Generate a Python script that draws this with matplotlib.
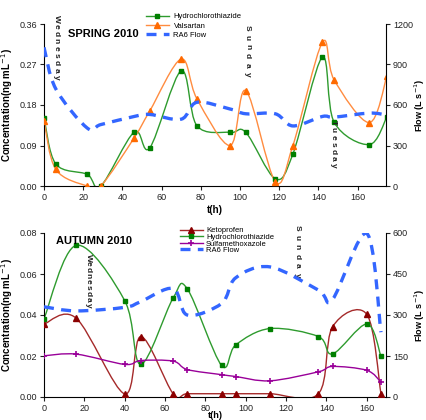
import matplotlib
matplotlib.use('Agg')
import matplotlib.pyplot as plt
from matplotlib.path import Path
from matplotlib.patches import PathPatch
from matplotlib.lines import Line2D
import numpy as np

plt.rcParams['font.family'] = ['Liberation Sans', 'DejaVu Sans']

# ---------------- Data ----------------
spring_t = [0, 6, 22, 29, 46, 54, 70, 78, 95, 103, 118, 127, 142, 148, 166, 175]
spring_hctz = [0.152, 0.049, 0.026, 0.0, 0.120, 0.085, 0.256, 0.134, 0.119, 0.119,
               0.016, 0.071, 0.286, 0.142, 0.092, 0.154]
spring_vals = [0.145, 0.037, 0.0, 0.0, 0.107, 0.167, 0.282, 0.194, 0.090, 0.212,
               0.010, 0.090, 0.319, 0.236, 0.141, 0.245]
spring_flow = [1027, 720, 430, 455, 515, 530, 495, 620, 570, 535, 535, 445, 515, 510, 540, 525]

autumn_t = [0, 16, 40, 48, 64, 71, 88, 95, 112, 136, 143, 160, 167]
autumn_keto = [0.0356, 0.0384, 0.0015, 0.0295, 0.0016, 0.0016, 0.0016, 0.0016,
               0.0016, 0.0016, 0.0342, 0.0403, 0.0016]
autumn_hctz = [0.0382, 0.0740, 0.0470, 0.0159, 0.0483, 0.0528, 0.0154, 0.0254,
               0.0334, 0.0295, 0.0210, 0.0356, 0.0199]
autumn_smx = [0.0201, 0.0209, 0.0159, 0.0178, 0.0175, 0.0134, 0.0109, 0.0100,
              0.0079, 0.0123, 0.0149, 0.0130, 0.0073]
autumn_flow = [330, 315, 328, 349, 397, 300, 342, 436, 476, 391, 357, 598, 237]

spring_ticks_left = [0.00, 0.09, 0.18, 0.27, 0.36]
spring_ticks_right = [0, 300, 600, 900, 1200]
autumn_ticks_left = [0.00, 0.02, 0.04, 0.06, 0.08]
autumn_ticks_right = [0, 150, 300, 450, 600]
x_ticks = [0, 20, 40, 60, 80, 100, 120, 140, 160]

# ---------------- Helpers ----------------
def smooth_path(x, y):
    pts = np.column_stack([x, y]).astype(float)
    n = len(pts)
    verts = [pts[0]]
    codes = [Path.MOVETO]
    for i in range(n - 1):
        p0 = pts[i - 1] if i > 0 else pts[i]
        p1 = pts[i]
        p2 = pts[i + 1]
        p3 = pts[i + 2] if i + 2 < n else pts[i + 1]
        c1 = p1 + (p2 - p0) / 6.0
        c2 = p2 - (p3 - p1) / 6.0
        verts += [c1, c2, p2]
        codes += [Path.CURVE4] * 3
    return Path(verts, codes)

def smooth_line(ax, x, y, color, lw=1.0, **kw):
    patch = PathPatch(smooth_path(x, y), facecolor='none', edgecolor=color, lw=lw, **kw)
    ax.add_patch(patch)
    return patch

def vertical_word(ax, word, x, y0, step, fs=6):
    for i, ch in enumerate(word):
        ax.text(x, y0 - i * step, ch, transform=ax.transAxes, rotation=-90,
                ha='center', va='center', fontsize=fs, color='#222222',
                fontweight='bold', clip_on=False)

def style_axes(ax, ax2):
    for a in (ax, ax2):
        a.spines['top'].set_visible(False)
        a.tick_params(direction='out', length=3, width=0.8, labelsize=6.5,
                      colors='#222222', pad=2)
    ax.spines['right'].set_visible(False)
    ax2.spines['left'].set_visible(False)
    ax2.spines['bottom'].set_visible(False)

W, H = 427, 420
fig = plt.figure(figsize=(W / 100, H / 100), dpi=100)

green_line = '#2E9B2E'
green_mk = '#007F00'
orange_line = '#FF8C40'
orange_mk = '#FF6A00'
blue = '#3366FF'
red_line = '#A52A2A'
red_mk = '#8B0000'
purple = '#990099'

SQ = 3.4
TR = 4.0

# ---------------- Spring ----------------
ax1 = fig.add_axes([44 / W, 1 - 186 / H, (386 - 44) / W, (186 - 24) / H])
ax1b = ax1.twinx()
ax1.set_xlim(0, 174.5)
ax1.set_ylim(0, 0.36)
ax1b.set_ylim(0, 1200)

smooth_line(ax1, spring_t, spring_hctz, green_line, lw=1.0, zorder=2)
ax1.plot(spring_t, spring_hctz, ls='none', marker='s', ms=SQ, color=green_mk, zorder=3)
smooth_line(ax1, spring_t, spring_vals, orange_line, lw=1.0, zorder=2)
ax1.plot(spring_t, spring_vals, ls='none', marker='^', ms=TR, color=orange_mk, zorder=3)
smooth_line(ax1b, spring_t, spring_flow, blue, lw=2.4, linestyle=(0, (3, 2.2)), zorder=2)

ax1.set_yticks(spring_ticks_left)
ax1.set_yticklabels(['%.2f' % v for v in spring_ticks_left])
ax1b.set_yticks(spring_ticks_right)
ax1.set_xticks(x_ticks)
style_axes(ax1, ax1b)
ax1.set_ylabel('Concentration(ng mL$^{-1}$)', fontsize=7, fontweight='bold', labelpad=3)
ax1b.set_ylabel('Flow (L s$^{-1}$)', fontsize=6.5, fontweight='bold')
ax1b.yaxis.set_label_coords(1.078, 0.5)
ax1.set_xlabel('t(h)', fontsize=7, fontweight='bold', labelpad=2)
ax1.text(0.07, 0.94, 'SPRING 2010', transform=ax1.transAxes, fontsize=8,
         fontweight='bold', va='center', ha='left')

h1 = [Line2D([], [], color=green_line, marker='s', ms=SQ, mfc=green_mk, mec=green_mk, lw=1),
      Line2D([], [], color=orange_line, marker='^', ms=TR, mfc=orange_mk, mec=orange_mk, lw=1),
      Line2D([], [], color=blue, lw=2.4, linestyle=(0, (3, 2.2)))]
fig.legend(h1, ['Hydrochlorothiazide', 'Valsartan', 'RA6 Flow'],
           loc='upper left', bbox_to_anchor=(146 / W, 1 - 13 / H),
           fontsize=5.5, frameon=False, handlelength=3.0, handletextpad=0.6,
           labelspacing=0.25, borderpad=0, borderaxespad=0)

vertical_word(ax1, 'Wednesday', 0.036, 1.03, 0.045)
vertical_word(ax1, 'Sunday', 0.595, 0.975, 0.057)
vertical_word(ax1, 'Tuesday', 0.845, 0.39, 0.044)

# ---------------- Autumn ----------------
ax2 = fig.add_axes([44 / W, 1 - 397 / H, (386 - 44) / W, (397 - 233) / H])
ax2b = ax2.twinx()
ax2.set_xlim(0, 169.5)
ax2.set_ylim(0, 0.08)
ax2b.set_ylim(0, 600)

smooth_line(ax2, autumn_t, autumn_keto, red_line, lw=1.0, zorder=2)
ax2.plot(autumn_t, autumn_keto, ls='none', marker='^', ms=TR, color=red_mk, zorder=3)
smooth_line(ax2, autumn_t, autumn_hctz, green_line, lw=1.0, zorder=2)
ax2.plot(autumn_t, autumn_hctz, ls='none', marker='s', ms=SQ, color=green_mk, zorder=3)
smooth_line(ax2, autumn_t, autumn_smx, purple, lw=1.0, zorder=2)
ax2.plot(autumn_t, autumn_smx, ls='none', marker='+', ms=4.5, mew=1.2, color=purple, zorder=3)
smooth_line(ax2b, autumn_t, autumn_flow, blue, lw=2.4, linestyle=(0, (3, 2.2)), zorder=2)

ax2.set_yticks(autumn_ticks_left)
ax2.set_yticklabels(['%.2f' % v for v in autumn_ticks_left])
ax2b.set_yticks(autumn_ticks_right)
ax2.set_xticks(x_ticks)
style_axes(ax2, ax2b)
ax2.set_ylabel('Concentration(ng mL$^{-1}$)', fontsize=7, fontweight='bold', labelpad=3)
ax2b.set_ylabel('Flow (L s$^{-1}$)', fontsize=6.5, fontweight='bold')
ax2b.yaxis.set_label_coords(1.078, 0.5)
ax2.set_xlabel('t(h)', fontsize=6.5, fontweight='bold')
ax2.xaxis.set_label_coords(0.5, -0.085)
ax2.xaxis.label.set_va('top')
ax2.text(0.035, 0.95, 'AUTUMN 2010', transform=ax2.transAxes, fontsize=8,
         fontweight='bold', va='center', ha='left')

h2 = [Line2D([], [], color=red_line, marker='^', ms=TR, mfc=red_mk, mec=red_mk, lw=1),
      Line2D([], [], color=green_line, marker='s', ms=SQ, mfc=green_mk, mec=green_mk, lw=1),
      Line2D([], [], color=purple, marker='+', ms=4.5, mew=1.2, lw=1),
      Line2D([], [], color=blue, lw=2.4, linestyle=(0, (3, 2.2)))]
fig.legend(h2, ['Ketoprofen', 'Hydrochlorothiazide', 'Sulfamethoxazole', 'RA6 Flow'],
           loc='upper left', bbox_to_anchor=(180 / W, 1 - 227 / H),
           fontsize=5.5, frameon=False, handlelength=3.0, handletextpad=0.4,
           labelspacing=-0.1, borderpad=0, borderaxespad=0)

vertical_word(ax2, 'Wednesday', 0.129, 0.848, 0.036)
vertical_word(ax2, 'Sunday', 0.74, 1.03, 0.057)

fig.savefig('out.png', dpi=100)
